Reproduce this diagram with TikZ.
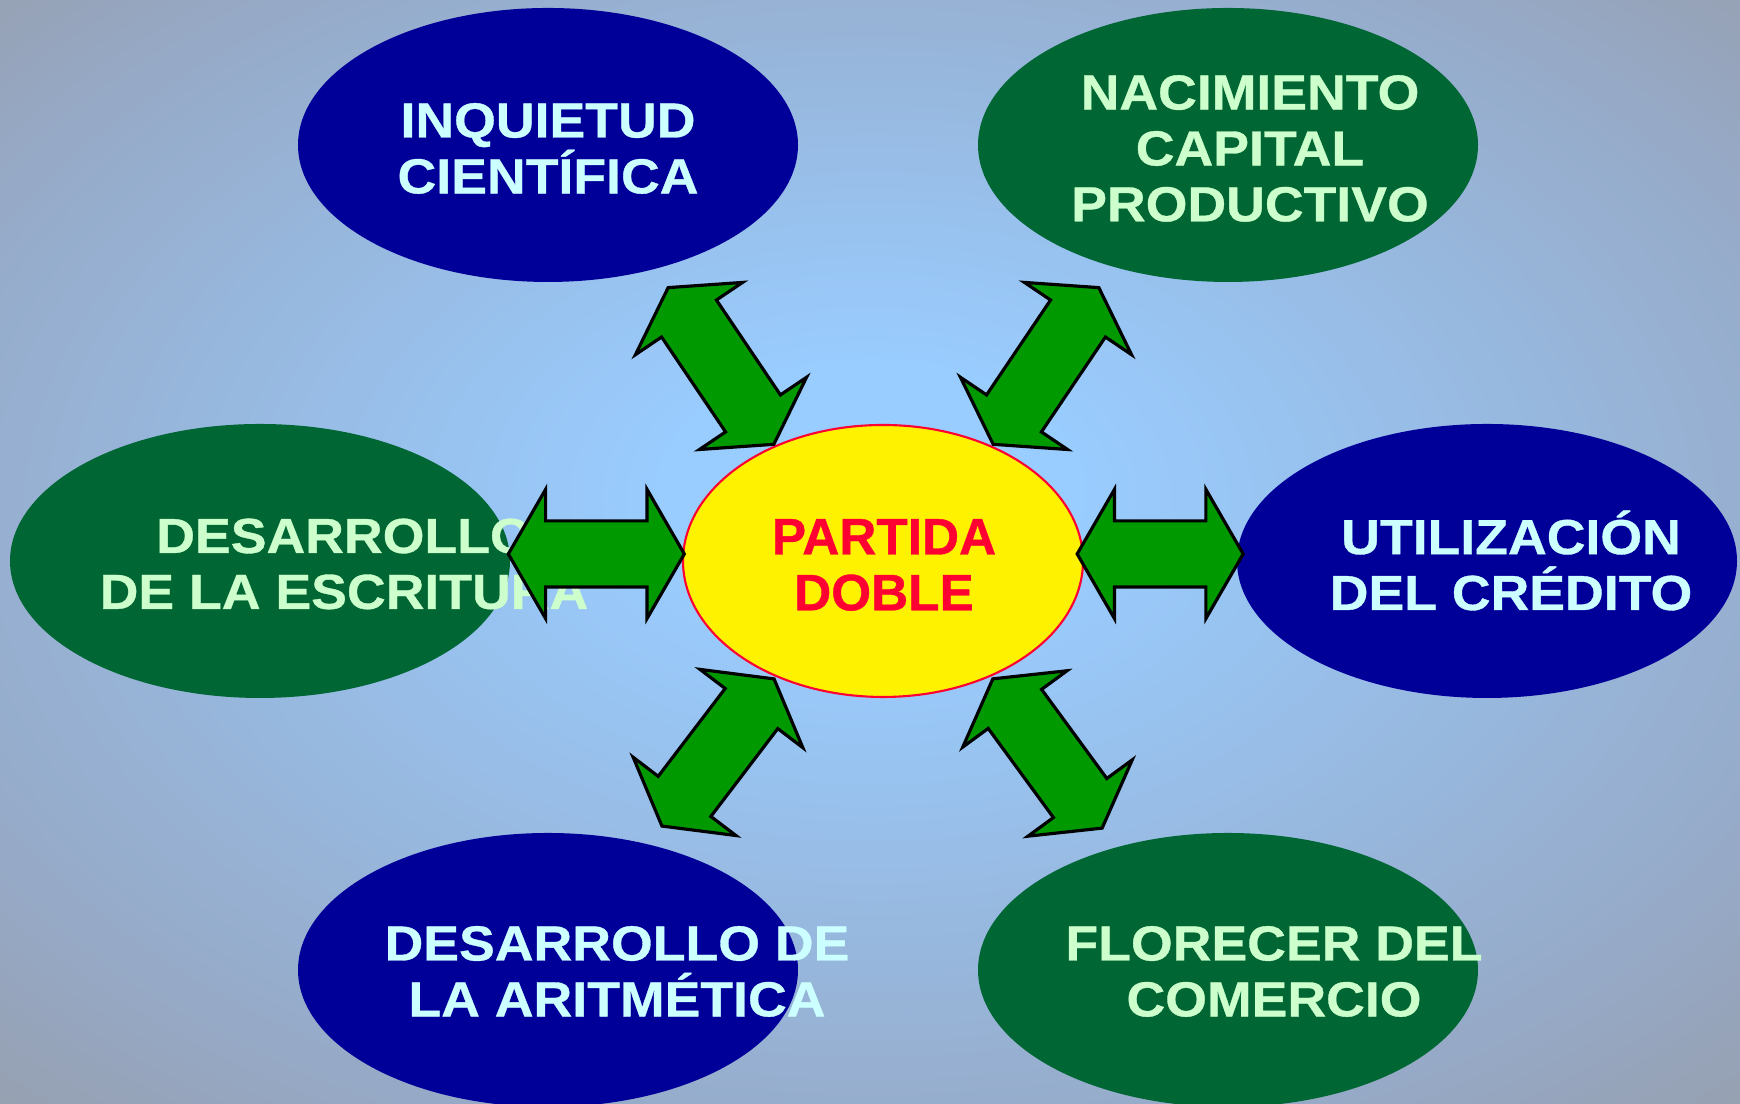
\documentclass[tikz,border=0pt]{standalone}
\usepackage{fontspec}
\setmainfont{Liberation Sans}
\newfontfamily\widefont{Liberation Sans}[FakeStretch=1.09,FakeBold=0.7]
\usetikzlibrary{shapes.geometric,shapes.arrows,calc}

\definecolor{navy}{RGB}{0,0,153}
\definecolor{darkgreen}{RGB}{0,102,51}
\definecolor{arrowgreen}{RGB}{0,153,0}
\definecolor{palecyan}{RGB}{204,255,255}
\definecolor{palegreen}{RGB}{204,255,204}
\definecolor{redtext}{RGB}{255,0,51}
\definecolor{bglight}{RGB}{153,204,255}
\definecolor{bgmid}{RGB}{150,168,196}
\definecolor{bgdark}{RGB}{150,150,152}
\pgfdeclareradialshading{bgglow}{\pgfpoint{0bp}{3bp}}{color(0bp)=(bglight); color(6bp)=(bglight); color(30bp)=(bgmid); color(44bp)=(bgdark); color(50bp)=(bgdark)}

\tikzset{
  bubble/.style={ellipse, minimum width=5cm, minimum height=2.74cm, inner sep=0pt},
  cyantext/.style={text=palecyan, font=\widefont\bfseries\fontsize{14}{15.9}\selectfont, align=center, inner sep=0pt},
  greentext/.style={text=palegreen, font=\widefont\bfseries\fontsize{14}{15.9}\selectfont, align=center, inner sep=0pt},
  dblarrow/.style={double arrow, draw=black, line width=0.9pt, fill=arrowgreen, minimum width=1.26cm,
    double arrow head extend=0.315cm, double arrow tip angle=120, inner xsep=0pt, inner ysep=0.315cm}
}

\begin{document}
\begin{tikzpicture}
\useasboundingbox (0,0) rectangle (17.4,11.04);
\shade[shading=bgglow] (0,0) rectangle (17.4,11.04);

% outer bubbles
\foreach \n/\x/\y/\c in {inq/5.48/9.59/navy, nac/12.28/9.59/darkgreen, esc/2.60/5.43/darkgreen,
                         uti/14.87/5.43/navy, ari/5.48/1.34/navy, flo/12.28/1.34/darkgreen}{
	\node[bubble, fill=\c] (\n) at (\x,\y) {};
}

% centre
\node[ellipse, fill=yellow, draw=redtext, line width=0.6pt, minimum width=4cm, minimum height=2.72cm] (pd) at (8.83,5.43) {};
\node[text=redtext, font=\bfseries\fontsize{14.6}{15.9}\selectfont\addfontfeatures{FakeBold=0.7}, align=center, inner sep=0pt]
  (pd-t) at ([shift={(0.01,-0.04)}]pd) {PARTIDA\\DOBLE};

% texts
\node[cyantext] (inq-t) at ([shift={(0,-0.035)}]inq) {INQUIETUD\\CIENTÍFICA};
\node[greentext] (nac-t) at ([shift={(0.22,-0.035)}]nac) {NACIMIENTO\\CAPITAL\\PRODUCTIVO};
\node[greentext] (esc-t) at ([shift={(0.84,-0.03)}]esc) {DESARROLLO\\DE LA ESCRITURA};
\node[cyantext] (uti-t) at ([shift={(0.24,0.005)}]uti) {UTILIZACIÓN\\DEL CRÉDITO};
\node[cyantext] (ari-t) at ([shift={(0.69,-0.015)}]ari) {DESARROLLO DE\\LA ARITMÉTICA};
\node[greentext] (flo-t) at ([shift={(0.46,-0.015)}]flo) {FLORECER DEL\\COMERCIO};

% arrows
\node[dblarrow, minimum height=1.76cm] (esc-pd) at ($(esc.east)!0.5!(pd.west)+(0,0.07)$) {};
\node[dblarrow, minimum height=1.66cm] (pd-uti) at ($(pd.east)!0.5!(uti.west)+(0,0.07)$) {};
\node[dblarrow, minimum height=1.89cm, rotate=-56] (inq-pd) at ($(inq)!0.5!(pd)+(0.055,-0.13)$) {};
\node[dblarrow, minimum height=1.89cm, rotate=56] (nac-pd) at ($(nac)!0.5!(pd)+(-0.095,-0.13)$) {};
\node[dblarrow, minimum height=1.85cm, rotate=52.7] (ari-pd) at ($(ari)!0.5!(pd)+(0.025,0.13)$) {};
\node[dblarrow, minimum height=1.85cm, rotate=-53.8] (flo-pd) at ($(flo)!0.5!(pd)+(-0.08,0.12)$) {};
\end{tikzpicture}
\end{document}
